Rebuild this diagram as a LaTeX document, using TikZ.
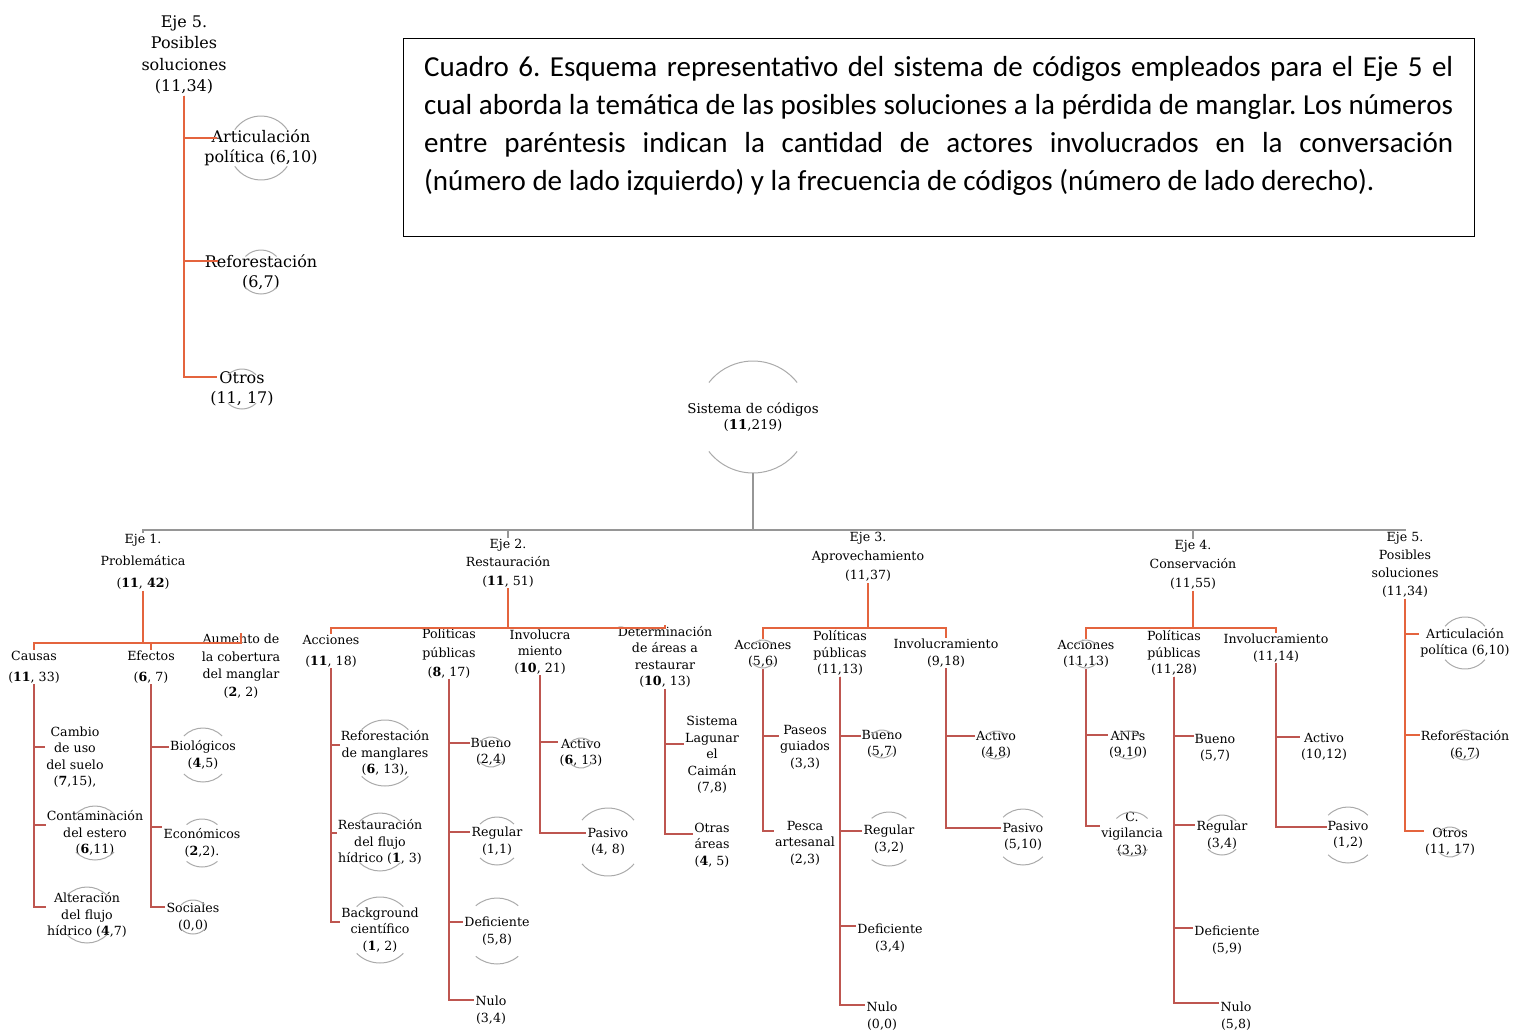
\documentclass[tikz,border=0pt]{standalone}
\usepackage{fontspec}
\setmainfont{DejaVu Serif}
\newfontfamily\capfont{Carlito}
\frenchspacing
\definecolor{orangec}{RGB}{228,100,62}
\definecolor{redc}{RGB}{190,86,80}
\definecolor{grayc}{RGB}{150,150,150}
\definecolor{arcc}{RGB}{170,170,170}
\newcommand\ring[3]{%
 \draw[deco] (#1.center) ++(#3:#2pt) arc[start angle=#3,end angle=180-#3,radius=#2pt];
 \draw[deco] (#1.center) ++(180+#3:#2pt) arc[start angle=180+#3,end angle=360-#3,radius=#2pt];}
\tikzset{
 lbl/.style={align=center, font=\fontsize{12.6}{16.5}\selectfont, inner sep=1pt},
 wide/.style={align=center, font=\fontsize{12.6}{21}\selectfont, inner sep=1pt},
 big/.style={align=center, font=\fontsize{16}{20}\selectfont, inner sep=1pt},
 oline/.style={draw=orangec, line width=1.8pt},
 rline/.style={draw=redc, line width=1.2pt},
 gline/.style={draw=grayc, line width=1.5pt},
 deco/.style={draw=arcc, line width=1pt},
}
\begin{document}
\begin{tikzpicture}[x=1pt,y=-1pt]
\useasboundingbox (0,0) rectangle (1513,1036);

% caption
\node[draw=black, line width=1.2pt, minimum width=1071pt, minimum height=198pt, anchor=north west, inner sep=0pt] (capbox) at (403,38) {};
\node[anchor=north west, inner sep=0pt, text width=1029pt, align=justify, font=\capfont\fontsize{29}{38}\selectfont] (captxt) at (424,56) {Cuadro 6. Esquema representativo del sistema de códigos empleados para el Eje 5 el\linebreak cual aborda la temática de las posibles soluciones a la pérdida de manglar. Los números\linebreak entre paréntesis indican la cantidad de actores involucrados en la conversación\linebreak (número de lado izquierdo) y la frecuencia de códigos (número de lado derecho).};

% top-left Eje 5
\node[big, font=\fontsize{16}{21.5}\selectfont] (tE5) at (184,55) {Eje 5.\\Posibles\\soluciones\\(11,34)};
\node[big] (tArt) at (261,148) {Articulación\\política (6,10)};
\node[big] (tRef) at (261,272) {Reforestación\\(6,7)};
\node[big] (tOtr) at (242,389) {Otros\\(11, 17)};
\draw[oline] (tE5.south) |- ([yshift=10pt,xshift=14pt]tArt.west);
\draw[oline] (tE5.south) |- ([yshift=11pt,xshift=14pt]tRef.west);
\draw[oline] (tE5.south) |- ([yshift=12pt,xshift=8pt]tOtr.west);
\ring{tArt}{32}{35}
\ring{tRef}{22}{45}
\ring{tOtr}{20}{45}

% root
\node[lbl, font=\fontsize{13.4}{16.5}\selectfont, minimum height=112pt] (root) at (753,417) {Sistema de códigos\\(\textbf{11},219)};
\ring{root}{56}{38}
\coordinate (rb) at (753,530);
\draw[gline] (root.south) -- (rb);

% Eje nodes
\node[lbl, font=\fontsize{12.6}{22}\selectfont] (e1) at (143,562) {Eje 1.\\Problemática\\(\textbf{11}, \textbf{42})};
\node[lbl, font=\fontsize{12.6}{18.5}\selectfont] (e2) at (508,563) {Eje 2.\\Restauración\\(\textbf{11}, 51)};
\node[lbl, font=\fontsize{12.6}{19}\selectfont] (e3) at (868,557) {Eje 3.\\Aprovechamiento\\(11,37)};
\node[lbl, font=\fontsize{12.6}{19}\selectfont] (e4) at (1193,565) {Eje 4.\\Conservación\\(11,55)};
\node[lbl, font=\fontsize{12.6}{18}\selectfont] (e5) at (1405,565) {Eje 5.\\Posibles\\soluciones\\(11,34)};
\foreach \e in {e1,e2,e3,e4,e5} {\draw[gline] (\e.north) |- (rb);}

% level-2 bars
\coordinate (b1) at (143,643);
\coordinate (b2) at (508,628);
\coordinate (b3) at (868,628);
\coordinate (b4) at (1193,628);
\draw[oline] (e1.south) -- (b1);
\draw[oline] (e2.south) -- (b2);
\draw[oline] (e3.south) -- (b3);
\draw[oline] (e4.south) -- (b4);

% Eje 1 children
\node[wide] (causas) at (34,667) {Causas\\(\textbf{11}, 33)};
\node[wide] (efectos) at (151,667) {Efectos\\(\textbf{6}, 7)};
\node[lbl, font=\fontsize{12.6}{17.5}\selectfont] (aumento) at (241,666) {Aumento de\\la cobertura\\del manglar\\(\textbf{2}, 2)};
\foreach \c in {causas,efectos,aumento} {\draw[oline] (\c.north) |- (b1);}

\node[lbl] (cambio) at (75,757) {Cambio\\de uso\\del suelo\\(\textbf{7},15),};
\node[lbl] (contam) at (95,833) {Contaminación\\del estero\\(\textbf{6},11)};
\node[lbl] (alter) at (87,915) {Alteración\\del flujo\\hídrico (\textbf{4},7)};
\draw[rline] (causas.south) |- ([yshift=10pt]cambio.west);
\draw[rline] (causas.south) |- ([yshift=8pt]contam.west);
\draw[rline] (causas.south) |- ([yshift=8pt]alter.west);
\ring{contam}{27}{45}
\ring{alter}{28}{45}

\node[lbl] (bio) at (203,755) {Biológicos\\(\textbf{4},5)};
\node[lbl] (econ) at (202,843) {Económicos\\(\textbf{2},2).};
\node[lbl] (soc) at (193,917) {Sociales\\(0,0)};
\draw[rline] (efectos.south) |- ([yshift=8pt]bio.west);
\draw[rline] (efectos.south) |- ([yshift=16pt]econ.west);
\draw[rline] (efectos.south) |- ([yshift=10pt]soc.west);
\ring{bio}{27}{45}
\ring{econ}{24}{50}
\ring{soc}{17}{45}

% Eje 2 children
\node[wide] (acc2) at (331,651) {Acciones\\(\textbf{11}, 18)};
\node[lbl, font=\fontsize{12.6}{19}\selectfont] (pol2) at (449,653) {Políticas\\públicas\\(\textbf{8}, 17)};
\node[lbl] (inv2) at (540,652) {Involucra\\miento\\(\textbf{10}, 21)};
\node[lbl] (det2) at (665,657) {Determinación\\de áreas a\\restaurar\\(\textbf{10}, 13)};
\foreach \c in {acc2,pol2,inv2,det2} {\draw[oline] (\c.north) |- (b2);}

\node[lbl] (refm) at (385,753) {Reforestación\\de manglares\\(\textbf{6}, 13),};
\node[lbl] (restf) at (380,842) {Restauración\\del flujo\\hídrico (\textbf{1}, 3)};
\node[lbl] (backg) at (380,930) {Background\\científico\\(\textbf{1}, 2)};
\draw[rline] (acc2.south) |- ([yshift=8pt]refm.west);
\draw[rline] (acc2.south) |- ([yshift=9pt]restf.west);
\draw[rline] (acc2.south) |- ([yshift=8pt]backg.west);
\ring{refm}{33}{45}
\ring{restf}{29}{45}
\ring{backg}{33}{45}

\node[lbl] (bue2) at (491,752) {Bueno\\(2,4)};
\node[lbl] (reg2) at (497,841) {Regular\\(1,1)};
\node[lbl] (def2) at (497,931) {Deficiente\\(5,8)};
\node[lbl] (nul2) at (491,1010) {Nulo\\(3,4)};
\draw[rline] (pol2.south) |- ([yshift=9pt]bue2.west);
\draw[rline] (pol2.south) |- ([yshift=9pt]reg2.west);
\draw[rline] (pol2.south) |- ([yshift=9pt]def2.west);
\draw[rline] (pol2.south) |- ([yshift=10pt]nul2.west);
\ring{bue2}{15}{40}
\ring{reg2}{24}{45}
\ring{def2}{33}{50}

\node[lbl] (act2) at (581,753) {Activo\\(\textbf{6}, 13)};
\node[lbl] (pas2) at (608,842) {Pasivo\\(4, 8)};
\draw[rline] (inv2.south) |- ([yshift=11pt]act2.west);
\draw[rline] (inv2.south) |- ([yshift=9pt]pas2.west);
\ring{act2}{15}{40}
\ring{pas2}{34}{40}

\node[lbl] (sist) at (712,755) {Sistema\\Lagunar\\el\\Caimán\\(7,8)};
\node[lbl] (otras) at (712,845) {Otras\\áreas\\(\textbf{4}, 5)};
\draw[rline] (det2.south) |- ([yshift=11pt]sist.west);
\draw[rline] (det2.south) |- ([yshift=11pt]otras.west);

% Eje 3 children
\node[lbl] (acc3) at (763,654) {Acciones\\(5,6)};
\node[lbl] (pol3) at (840,653) {Políticas\\públicas\\(11,13)};
\node[lbl] (inv3) at (946,653) {Involucramiento\\(9,18)};
\foreach \c in {acc3,pol3,inv3} {\draw[oline] (\c.north) |- (b3);}
\ring{acc3}{14}{40}

\node[lbl] (paseo) at (805,747) {Paseos\\guiados\\(3,3)};
\node[lbl] (pesca) at (805,843) {Pesca\\artesanal\\(2,3)};
\draw[rline] (acc3.south) |- ([yshift=11pt]paseo.west);
\draw[rline] (acc3.south) |- ([yshift=12pt]pesca.west);

\node[lbl] (bue3) at (882,744) {Bueno\\(5,7)};
\node[lbl] (reg3) at (889,839) {Regular\\(3,2)};
\node[lbl] (def3) at (890,938) {Deficiente\\(3,4)};
\node[lbl] (nul3) at (882,1016) {Nulo\\(0,0)};
\draw[rline] (pol3.south) |- ([yshift=8pt]bue3.west);
\draw[rline] (pol3.south) |- ([yshift=8pt]reg3.west);
\draw[rline] (pol3.south) |- ([yshift=12pt]def3.west);
\draw[rline] (pol3.south) |- ([yshift=11pt]nul3.west);
\ring{bue3}{14}{40}
\ring{reg3}{27}{50}

\node[lbl] (act3) at (996,745) {Activo\\(4,8)};
\node[lbl] (pas3) at (1023,837) {Pasivo\\(5,10)};
\draw[rline] (inv3.south) |- ([yshift=9pt]act3.west);
\draw[rline] (inv3.south) |- ([yshift=9pt]pas3.west);
\ring{act3}{14}{40}
\ring{pas3}{28}{45}

% Eje 4 children
\node[lbl] (acc4) at (1086,654) {Acciones\\(11,13)};
\node[lbl] (pol4) at (1174,653) {Políticas\\públicas\\(11,28)};
\node[lbl] (inv4) at (1276,648) {Involucramiento\\(11,14)};
\foreach \c in {acc4,pol4,inv4} {\draw[oline] (\c.north) |- (b4);}
\ring{acc4}{14}{40}

\node[lbl] (anps) at (1128,745) {ANPs\\(9,10)};
\node[lbl] (cvig) at (1132,834) {C.\\vigilancia\\(3,3)};
\draw[rline] (acc4.south) |- ([yshift=10pt]anps.west);
\draw[rline] (acc4.south) |- ([yshift=8pt]cvig.west);
\ring{anps}{14}{40}
\ring{cvig}{22}{45}

\node[lbl] (bue4) at (1215,748) {Bueno\\(5,7)};
\node[lbl] (reg4) at (1222,835) {Regular\\(3,4)};
\node[lbl] (def4) at (1227,940) {Deficiente\\(5,9)};
\node[lbl] (nul4) at (1236,1016) {Nulo\\(5,8)};
\draw[rline] (pol4.south) |- ([yshift=12pt]bue4.west);
\draw[rline] (pol4.south) |- ([yshift=10pt]reg4.west);
\draw[rline] (pol4.south) |- ([yshift=12pt]def4.west);
\draw[rline] (pol4.south) |- ([yshift=13pt]nul4.west);
\ring{reg4}{20}{45}

\node[lbl] (act4) at (1324,747) {Activo\\(10,12)};
\node[lbl] (pas4) at (1348,835) {Pasivo\\(1,2)};
\draw[rline] (inv4.south) |- ([yshift=10pt]act4.west);
\draw[rline] (inv4.south) |- ([yshift=8pt]pas4.west);
\ring{pas4}{28}{45}

% Eje 5 children
\node[lbl] (art5) at (1465,643) {Articulación\\política (6,10)};
\node[lbl] (ref5) at (1465,745) {Reforestación\\(6,7)};
\node[lbl] (otr5) at (1450,842) {Otros\\(11, 17)};
\draw[oline] (e5.south) |- ([yshift=9pt]art5.west);
\draw[oline] (e5.south) |- ([yshift=10pt]ref5.west);
\draw[oline] (e5.south) |- ([yshift=11pt]otr5.west);
\ring{art5}{26}{40}
\ring{ref5}{15}{40}
\ring{otr5}{15}{40}
\end{tikzpicture}
\end{document}
